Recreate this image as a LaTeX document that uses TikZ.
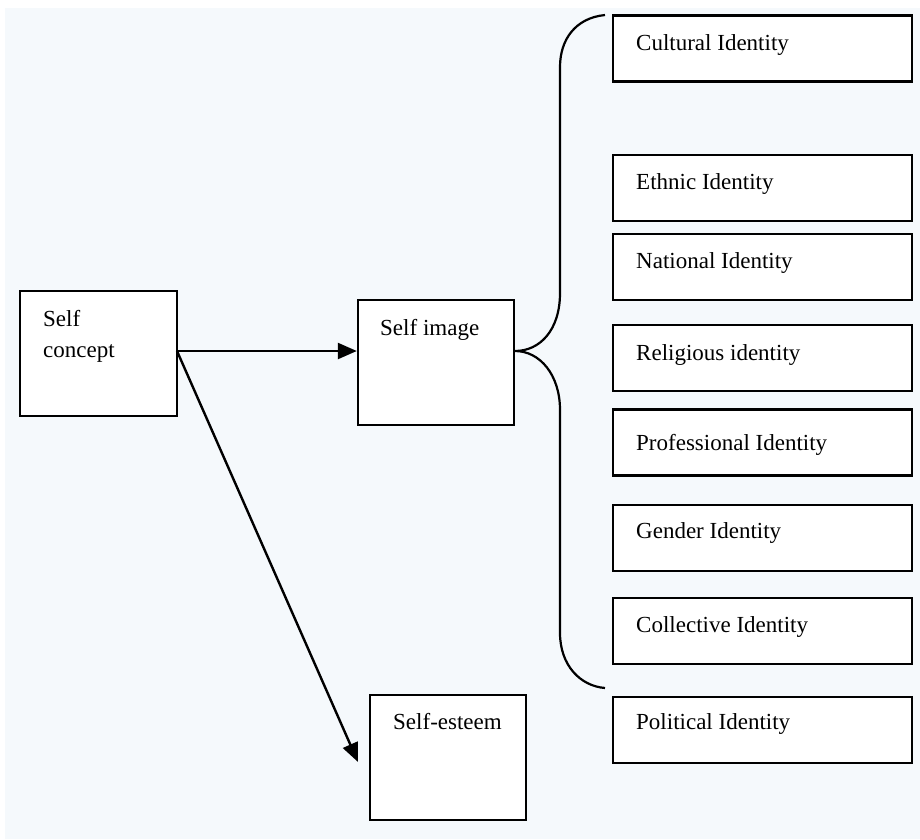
\documentclass[tikz,border=0pt]{standalone}
\usepackage{fontspec}
\setmainfont{Liberation Serif}
\usepackage{tikz}
\usetikzlibrary{arrows.meta,positioning}
\definecolor{paper}{RGB}{245,249,252}

\begin{document}
\begin{tikzpicture}[x=1pt,y=-1pt,
box/.style={draw, line width=2.4pt, fill=white, inner sep=0pt, minimum width=156pt, minimum height=125pt},
idbox/.style={draw, line width=2.4pt, fill=white, inner sep=0pt, minimum width=299pt, minimum height=66pt},
txt/.style={anchor=base west, inner sep=0pt, font=\fontsize{23}{27}\selectfont},
link/.style={line width=2.4pt, -{Triangle[length=19pt,width=16pt]}}]

   % background
   \useasboundingbox (0,0) rectangle (920,839);
   \fill[paper] (5,8) rectangle (920,839);

   % left side
   \node[box, minimum width=157pt] (concept) at (98.5,353.5) {};
   \node[txt] (concept_t1) at (43,326) {Self};
   \node[txt] (concept_t2) at (43,357) {concept};
   \coordinate (concept_out) at (177,351);

   \node[box] (image) at (436,362.5) {};
   \node[txt] (image_t) at (380,335) {Self image};

   \node[box] (esteem) at (448,757.5) {};
   \node[txt] (esteem_t) at (393,729) {Self-esteem};
   \coordinate (esteem_in) at (358,762);

   \path [link] (concept_out) edge (image.west |- concept_out)
                (concept_out) edge (esteem_in);

   % identities
   \node[idbox] (cult) at (762.5,48.5) {};
   \node[txt] (cult_t) at (636,50) {Cultural Identity};
   \node[idbox] (ethn) at (762.5,188) {};
   \node[txt] (ethn_t) at (636,189) {Ethnic Identity};
   \node[idbox] (natn) at (762.5,267) {};
   \node[txt] (natn_t) at (636,268) {National Identity};
   \node[idbox] (relg) at (762.5,358) {};
   \node[txt] (relg_t) at (636,360) {Religious identity};
   \node[idbox] (prof) at (762.5,442.5) {};
   \node[txt] (prof_t) at (636,450) {Professional Identity};
   \node[idbox] (gend) at (762.5,538) {};
   \node[txt] (gend_t) at (636,538) {Gender Identity};
   \node[idbox] (coll) at (762.5,631) {};
   \node[txt] (coll_t) at (636,632) {Collective Identity};
   \node[idbox] (poli) at (762.5,730) {};
   \node[txt] (poli_t) at (636,729) {Political Identity};

   % brace
   \draw[line width=2.2pt] (605,15) .. controls (575,18) and (560,40) .. (560,67)
        -- (560,293) .. controls (560,330) and (540,351) .. (515,351)
        .. controls (540,351) and (560,375) .. (560,410)
        -- (560,633) .. controls (560,665) and (580,686) .. (605,688);

\end{tikzpicture}
\end{document}
